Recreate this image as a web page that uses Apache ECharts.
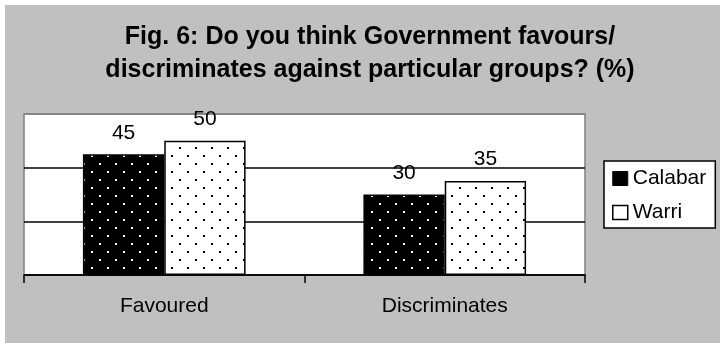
<!DOCTYPE html>
<html>
<head>
<meta charset="utf-8">
<script src="https://cdn.jsdelivr.net/npm/echarts@6/dist/echarts.min.js"></script>
<style>
    html, body { margin: 0; padding: 0; background: #fff; }
    #chart { width: 720px; height: 345px; }
</style>
</head>
<body>
<div id="chart"></div>
<script>
// data
var categories = ['Favoured', 'Discriminates'];
var seriesNames = ['Calabar', 'Warri'];
var calabarValues = [45, 30];
var warriValues = [50, 35];
var yTicks = [0, 20, 40, 60];

// dotted fill like the old Excel patterns
function dotPattern(bg, dot) {
    var c = document.createElement('canvas');
    c.width = 16;
    c.height = 16;
    var ctx = c.getContext('2d');
    ctx.fillStyle = bg;
    ctx.fillRect(0, 0, 16, 16);
    ctx.fillStyle = dot;
    ctx.fillRect(3, 3, 2, 2);
    ctx.fillRect(11, 11, 2, 2);
    return c;
}

var chart = echarts.init(document.getElementById('chart'));
var font = 'Liberation Sans, Arial, sans-serif';

var option = {
    backgroundColor: '#fff',
    animation: false,
    graphic: [{
        type: 'rect',
        z: -100,
        shape: { x: 5, y: 5, width: 715, height: 338 },
        style: { fill: '#c0c0c0' },
        silent: true
    }],
    title: {
        text: 'Fig. 6: Do you think Government favours/\ndiscriminates against particular groups? (%)',
        left: 365,
        textAlign: 'center',
        top: 16,
        textStyle: {
            fontFamily: font,
            fontSize: 25,
            fontWeight: 'bold',
            color: '#000',
            lineHeight: 33
        }
    },
    legend: {
        orient: 'vertical',
        left: 604,
        top: 161,
        padding: [7, 9, 5, 8],
        itemWidth: 15,
        itemHeight: 14,
        itemGap: 13,
        backgroundColor: '#fff',
        borderColor: '#000',
        borderWidth: 1.5,
        borderRadius: 0,
        icon: 'rect',
        textStyle: { fontFamily: font, fontSize: 21, color: '#000', lineHeight: 21 },
        data: [
            { name: seriesNames[0], itemStyle: { color: '#000', borderColor: '#000', borderWidth: 1 } },
            { name: seriesNames[1], itemStyle: { color: '#fff', borderColor: '#000', borderWidth: 1.5 } }
        ]
    },
    grid: {
        left: 24,
        right: 135,
        top: 114,
        bottom: 70,
        show: true,
        backgroundColor: '#fff',
        borderColor: '#808080',
        borderWidth: 1.5
    },
    xAxis: {
        type: 'category',
        data: categories,
        axisLine: { lineStyle: { color: '#000', width: 1.5 } },
        axisTick: { show: true, length: 8, lineStyle: { color: '#000', width: 1.5 } },
        axisLabel: { fontFamily: font, fontSize: 21, color: '#000', margin: 21 }
    },
    yAxis: {
        type: 'value',
        min: yTicks[0],
        max: yTicks[yTicks.length - 1],
        interval: yTicks[1] - yTicks[0],
        axisLabel: { show: false },
        axisLine: { show: false },
        axisTick: { show: false },
        splitLine: {
            lineStyle: { color: ['#000', '#000', '#000', '#808080'], width: 1.5 }
        }
    },
    series: [{
        name: seriesNames[0],
        type: 'bar',
        barGap: '0%',
        barCategoryGap: '42%',
        data: calabarValues,
        itemStyle: {
            color: { image: dotPattern('#000', '#fff'), repeat: 'repeat' },
            borderColor: '#000',
            borderWidth: 1.5
        },
        label: {
            show: true,
            position: 'top',
            distance: 11,
            fontFamily: font,
            fontSize: 21,
            color: '#000'
        }
    }, {
        name: seriesNames[1],
        type: 'bar',
        data: warriValues,
        itemStyle: {
            color: { image: dotPattern('#fff', '#000'), repeat: 'repeat' },
            borderColor: '#000',
            borderWidth: 1.5
        },
        label: {
            show: true,
            position: 'top',
            distance: 11,
            fontFamily: font,
            fontSize: 21,
            color: '#000'
        }
    }]
};
chart.setOption(option);
</script>
</body>
</html>
